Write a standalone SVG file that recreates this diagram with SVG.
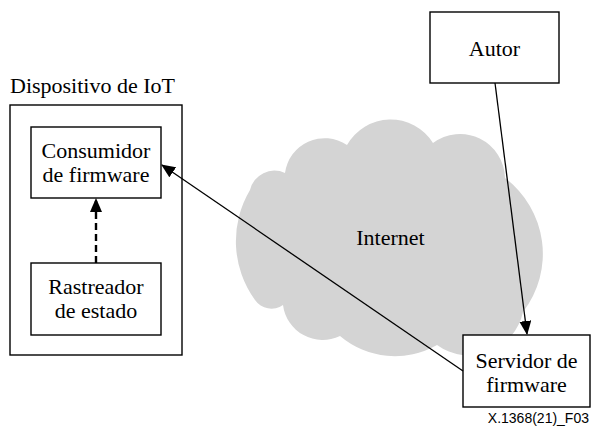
<svg xmlns="http://www.w3.org/2000/svg" width="592" height="430" viewBox="0 0 592 430">
<style>
.box{fill:#fff;stroke:#000;stroke-width:1.4}
.t{font-family:'Liberation Serif','Times New Roman',serif;font-size:22px;fill:#000;text-anchor:middle}
.ln{stroke:#000;stroke-width:1.3;fill:none}
</style>
<defs>
<marker id="ah" markerUnits="userSpaceOnUse" markerWidth="14" markerHeight="12" refX="13" refY="6" orient="auto">
<path d="M0,0 L14,6 L0,12 z" fill="#000"/>
</marker>
</defs>
<rect width="592" height="430" fill="#fff"/>
<g id="cloud">
<path d="M255,300 A100,100 0 0 1 250,190 A25,25 0 0 1 285,173 A40,40 0 0 1 347,145 A50,50 0 0 1 433,143 A45,45 0 0 1 505,178 A95,95 0 0 1 523,312 A55,55 0 0 1 437,345 A85,85 0 0 1 340,336 A40,40 0 0 1 283,305 A20,20 0 0 1 255,300 Z" fill="#d4d4d4"/>
<text class="t" x="390.5" y="245">Internet</text>
</g>
<g id="iot-device">
<rect class="box" x="10" y="105" width="172" height="250"/>
<text class="t" x="10" y="93" style="text-anchor:start">Dispositivo de IoT</text>
</g>
<g id="consumer">
<rect class="box" x="31" y="127" width="130" height="71"/>
<text class="t" x="96" y="158">Consumidor</text>
<text class="t" x="96" y="182">de firmware</text>
</g>
<g id="tracker">
<rect class="box" x="31" y="263" width="130" height="72"/>
<text class="t" x="96" y="294">Rastreador</text>
<text class="t" x="96" y="318">de estado</text>
</g>
<g id="author">
<rect class="box" x="430" y="12" width="129" height="71"/>
<text class="t" x="494.5" y="56">Autor</text>
</g>
<g id="server">
<rect class="box" x="463" y="335" width="127" height="72"/>
<text class="t" x="526.5" y="368">Servidor de</text>
<text class="t" x="526.5" y="392">firmware</text>
</g>
<g id="connectors">
<line x1="96" y1="263" x2="96" y2="199" stroke="#000" stroke-width="2.4" stroke-dasharray="7,4" marker-end="url(#ah)"/>
<line class="ln" x1="463" y1="371" x2="162" y2="165" marker-end="url(#ah)"/>
<line class="ln" x1="495" y1="83" x2="527" y2="334" marker-end="url(#ah)"/>
</g>
<text x="589" y="423" font-family="'Liberation Sans',Arial,sans-serif" font-size="14" text-anchor="end" fill="#000">X.1368(21)_F03</text>
</svg>
